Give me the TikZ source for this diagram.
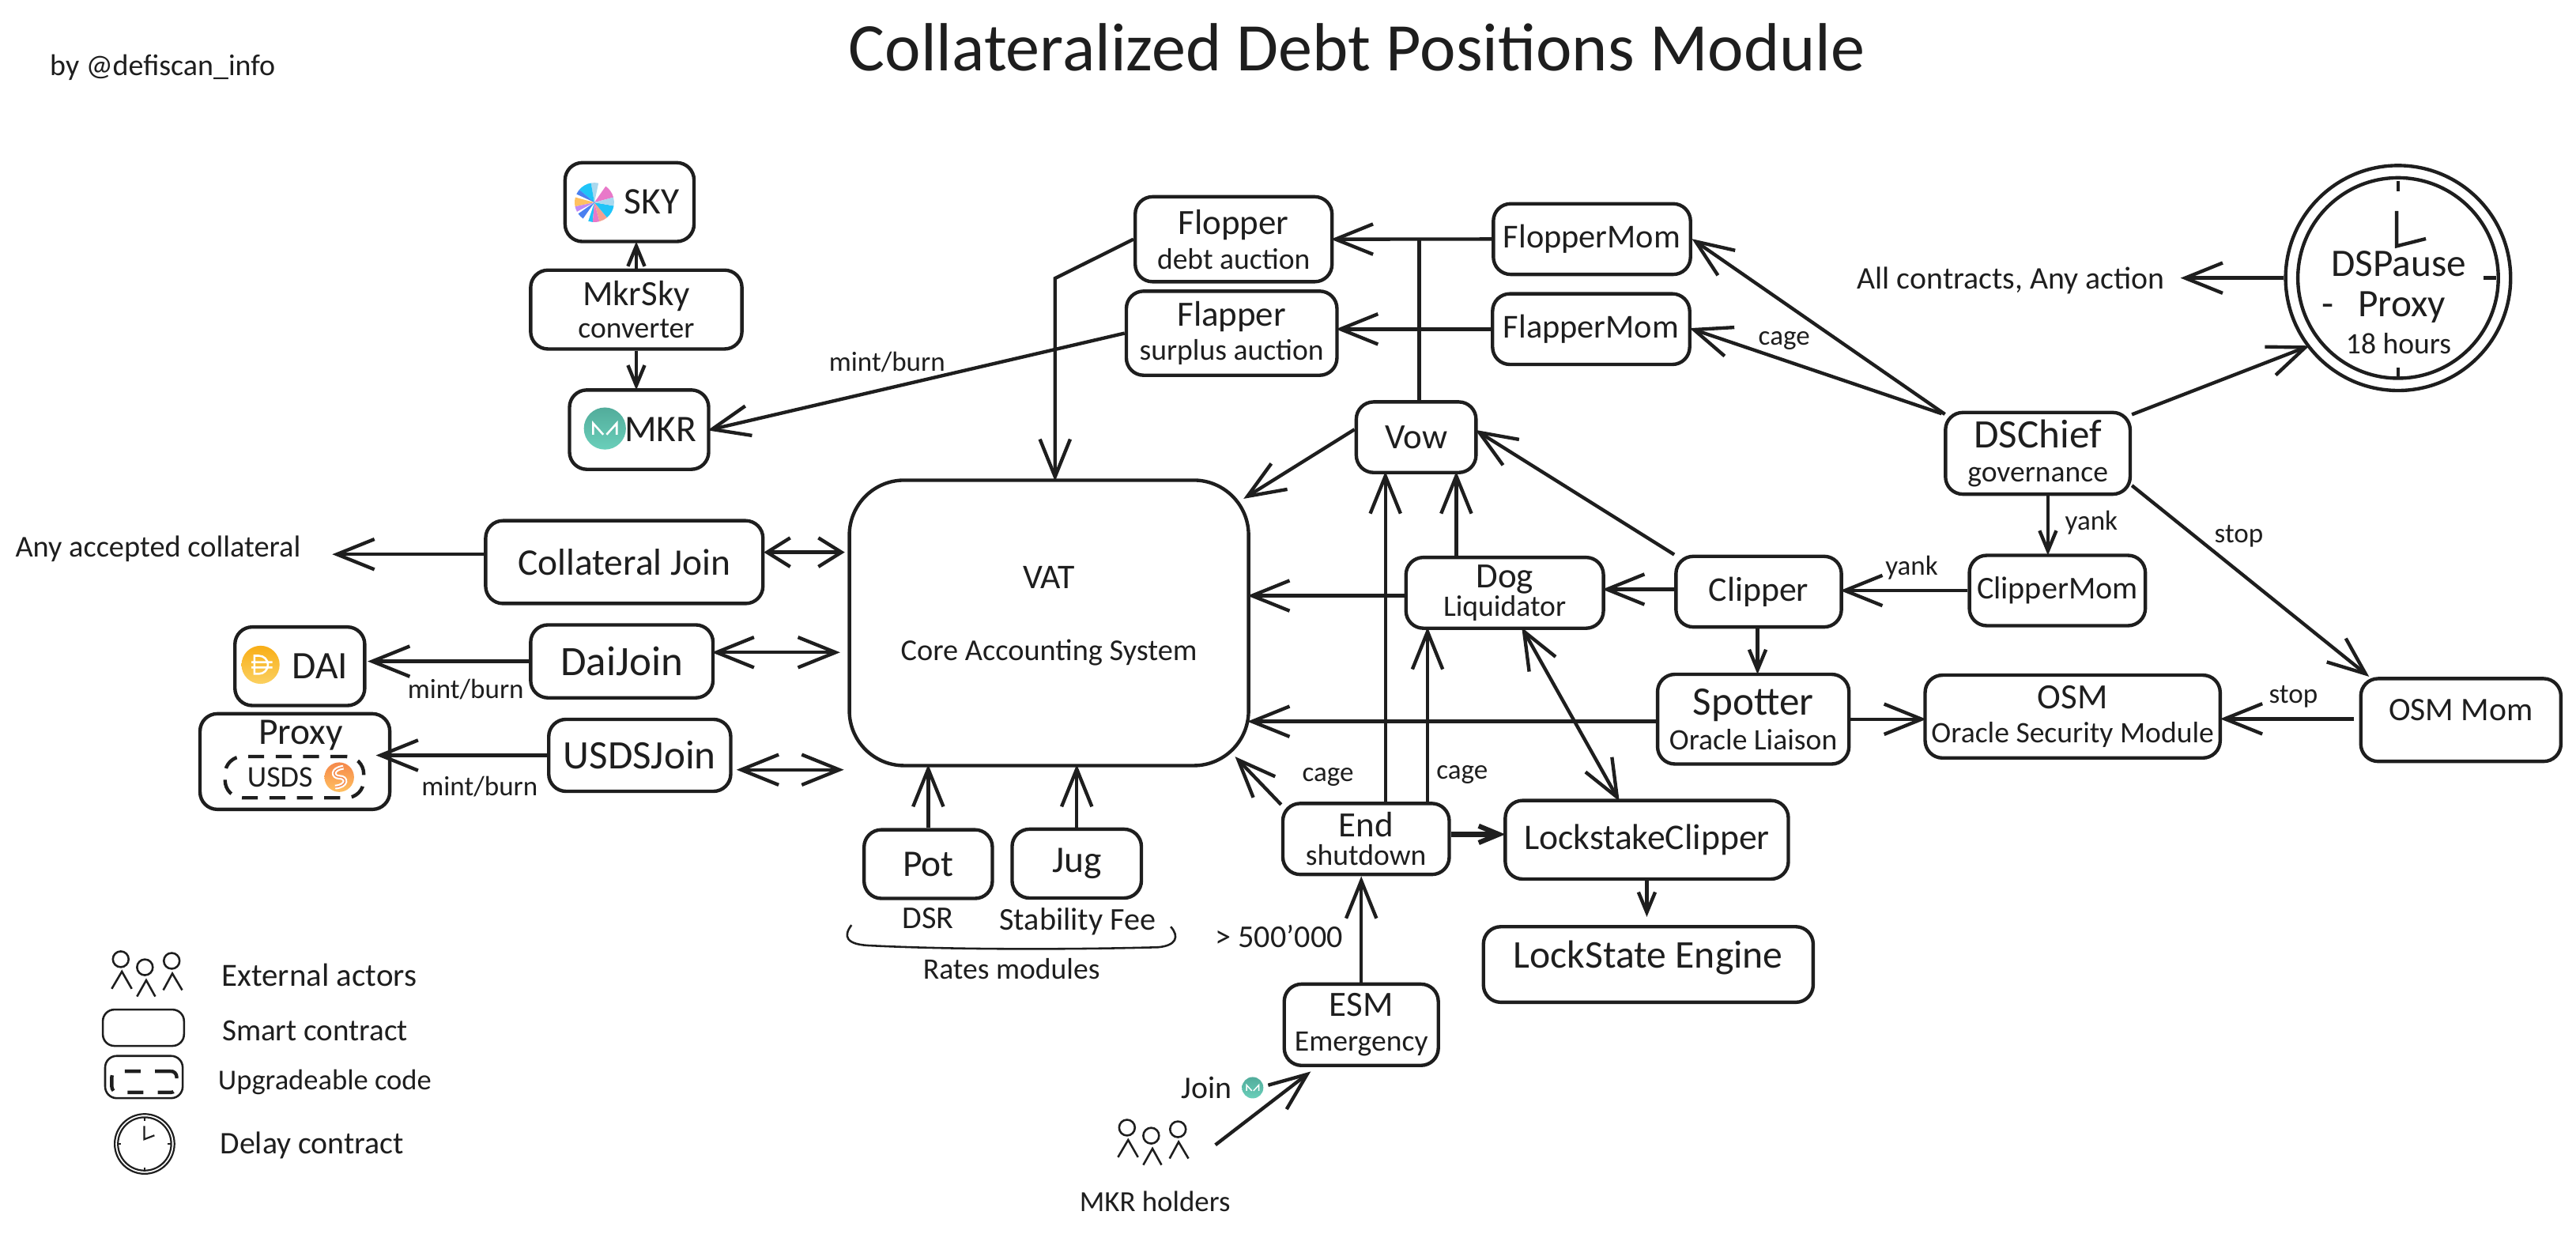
\documentclass[tikz,border=0pt]{standalone}
\usepackage{fontspec}
\setmainfont{Carlito}
\usetikzlibrary{arrows.meta,calc,shapes.geometric}
\definecolor{inkline}{HTML}{1E1E1E}
\definecolor{mkrtop}{HTML}{52AC9B}
\definecolor{mkrbottom}{HTML}{6ACFBA}
\definecolor{daitop}{HTML}{F8AE17}
\definecolor{daibottom}{HTML}{FBD060}
\definecolor{usdstop}{HTML}{F5884A}
\definecolor{usdsbottom}{HTML}{FFC060}
\definecolor{skypink}{HTML}{E879C9}
\definecolor{skypale}{HTML}{A9D8EE}
\definecolor{skycyan}{HTML}{1FC4F8}
\definecolor{skyblue}{HTML}{4A80F0}
\definecolor{skygold}{HTML}{FFC060}
\definecolor{skyviolet}{HTML}{C08AF5}
\definecolor{skysalmon}{HTML}{F5A090}

\begin{document}
\begin{tikzpicture}[x=0.02cm, y=-0.02cm, font=\fontsize{12.3}{13}\selectfont, text=inkline,
    line width=1.2pt, draw=inkline, >={Straight Barb[length=13pt,width=10.5pt]},
    flow/.style={->, draw=inkline, shorten >=-1pt},
    miniflow/.style={draw=inkline, -{Straight Barb[length=7pt,width=5.8pt]}, shorten >=-.6pt},
    bothflow/.style={draw=inkline, <->, shorten >=-1pt, shorten <=-1pt},
    tightflow/.style={draw=inkline, {Straight Barb[length=8pt,width=10pt]}-{Straight Barb[length=8pt,width=10pt]}, shorten >=-1pt, shorten <=-1pt},
    contract/.style 2 args={draw=inkline, rounded corners=6pt, inner sep=0pt, align=center,
        minimum width=#1*0.02cm, minimum height=#2*0.02cm},
    tsize/.style={font=\fontsize{#1}{13}\selectfont},
    edgelabel/.style={font=\fontsize{9.6}{11}\selectfont, inner sep=0pt},
    legendlabel/.style={font=\fontsize{#1}{11}\selectfont, inner sep=0pt, anchor=west}]

\useasboundingbox (0,0) rectangle (1568,751);

\def\sub#1{{\fontsize{10.3}{11}\selectfont #1}}

%%% people icon, centred on the middle head
\def\actors#1#2{
    \begin{scope}[shift={(#1,#2)}, line width=0.7pt]
    \draw (-14.7,-4.9) circle[radius=4.8];
    \draw (0,0) circle[radius=4.8];
    \draw (16.3,-3.9) circle[radius=4.8];
    \draw (-20.2,13.1) -- (-14,2.6) -- (-8,13.1);
    \draw (-4.8,17.8) -- (0.8,7.9) -- (6.3,17.8);
    \draw (11.2,13.9) -- (16.7,3.8) -- (22.7,13.9);
    \end{scope}
}

%%% clock outline with three ticks
\def\clockface#1#2#3#4#5{
    \node[circle, draw=inkline, line width=#5, inner sep=0pt, minimum size=#4*0.04cm] (#1) at (#2,#3) {};
    \begin{scope}[shift={(#2,#3)}, scale=#4/68.5, line width=#5]
    \draw (0,0) circle[radius=61];
    \draw (0,-59) -- (0,-52.6);
    \draw (52,0) -- (59.6,0);
    \draw (0,54.5) -- (0,61);
    \end{scope}
}

% Title
\node[tsize=23.6] (title) at (826,29) {Collateralized Debt Positions Module};
\node[tsize=10.4] (credit) at (99,41) {by @defiscan\_info};

% Tokens
\node[contract={78.5}{48}, tsize=13] (sky) at (383.2,123) {\hspace*{15.4pt}SKY};
\node[contract={128.6}{48}] (mkrsky) at (387.3,188.4) {MkrSky\\[-2pt]\sub{converter}};
\node[contract={84.7}{48.3}, tsize=13] (mkr) at (389,261.5) {\hspace*{15pt}MKR};
\node[contract={79}{47.8}, tsize=13.5] (dai) at (182.5,405.5) {\hspace*{14pt}DAI};
\node[contract={115.5}{58.2}] (proxy) at (179.5,463.5) {};
\node[inner sep=0pt, tsize=13] (proxylabel) at (183,447.4) {Proxy};
\node[contract={84.4}{25.1}, dash pattern=on 5.5pt off 4pt, tsize=10.4] (usdsbox) at (179.2,473) {USDS\hspace*{10pt}};

% pinwheel
\foreach \a/\b/\c in {15/55/skypink, 78/100/skypale, 100/140/skycyan, 140/155/skyblue, 165/192/skygold, 192/208/skyviolet, 215/235/skyblue, 252/265/skycyan, 265/285/skypink, 285/310/skysalmon, 310/350/skycyan, 350/375/skypale}{
    \fill[\c] (361.8,123.2) -- ++(-\a:12) arc[start angle=-\a, end angle=-\b, radius=12] -- cycle;
}
\shade[top color=mkrtop, bottom color=mkrbottom] (368.2,260.8) circle[radius=12.8];
\begin{scope}[shift={(368.2,260.8)}]
\draw[white, line width=0.7pt] (-7.2,3.7) -- (-7.2,-3.2) -- (-1,3.7) (7.2,3.7) -- (7.2,-3.2) -- (1,3.7);
\end{scope}
\shade[top color=daitop, bottom color=daibottom] (158.6,404.6) circle[radius=11.6];
\begin{scope}[shift={(158.6,404.6)}]
\draw[white, line width=0.7pt] (-3.7,-5.5) -- (-1,-5.5) arc[start angle=-90, end angle=90, radius=5.5] -- (-3.7,5.5) -- cycle (-5.6,-1.6) -- (7.2,-1.6) (-5.6,1.6) -- (7.2,1.6);
\end{scope}
\shade[top color=usdstop, bottom color=usdsbottom] (206.5,473) circle[radius=9];
\begin{scope}[shift={(206.5,473)}]
\draw[white, line width=1.6pt] (2.5,-6) .. controls (-5,-5) and (-4,0) .. (0,0) .. controls (5,0) and (5,5.5) .. (-2.5,6);
\draw[usdstop, line width=0.4pt] (2.5,-6) .. controls (-5,-5) and (-4,0) .. (0,0) .. controls (5,0) and (5,5.5) .. (-2.5,6);
\end{scope}

% Joins
\node[contract={168.8}{50.4}, tsize=13] (colljoin) at (380,342.1) {Collateral Join};
\node[contract={111}{44.4}, tsize=14.5] (daijoin) at (378.5,402.5) {DaiJoin};
\node[contract={110.8}{43.8}, tsize=14] (usdsjoin) at (389.4,459.7) {USDSJoin};
\coordinate (anycollateral) at (204,337.3);
\node[inner sep=0pt, tsize=10.5] (anylabel) at (96.2,333.9) {Any accepted collateral};

% Core
\node[contract={243}{173.7}, rounded corners=19pt, tsize=10.5] (vat) at (638.5,379.1) {\fontsize{12}{13}\selectfont VAT\\[12pt]Core Accounting System\\[-6.4pt]\phantom{x}};
\node[contract={78.1}{41.8}, tsize=13] (pot) at (565,525.9) {Pot};
\node[contract={78.7}{41.9}, tsize=13] (jug) at (655.4,525.6) {Jug};
\node[inner sep=0pt, tsize=11] (dsr) at (565,559) {DSR};
\node[inner sep=0pt, tsize=11] (stabfee) at (656,561) {Stability Fee};
\node[inner sep=0pt, tsize=10.3] (rates) at (615.7,589.8) {Rates modules};
\draw[line width=0.7pt] (518.3,563) .. controls (513,570) and (515,575) .. (530,575.5) .. controls (580,578) and (650,578) .. (705,576.5) .. controls (716,575.5) and (718,570) .. (712.6,564);

% Auctions
\node[contract={119.8}{51.7}] (flopper) at (750.9,145.6) {Flopper\\[-1pt]\sub{debt auction}};
\node[contract={128.2}{51.2}] (flapper) at (749.7,202.8) {Flapper\\[-1pt]\sub{surplus auction}};
\node[contract={120}{43}, tsize=11.6] (floppermom) at (969,145.5) {FlopperMom};
\node[contract={120}{43}, tsize=11.6] (flappermom) at (968.5,200.3) {FlapperMom};
\node[contract={72.9}{43}] (vow) at (862,266.1) {Vow};
\coordinate (floppervia) at (642.2,169.4);
\coordinate (vowjoint) at (863.9,145.5);

% Liquidation
\node[contract={120.2}{43.1}] (dog) at (915.9,360.8) {Dog\\[-3pt]\sub{Liquidator}};
\node[contract={100.7}{43}, tsize=12] (clipper) at (1070.5,360.1) {Clipper};
\node[contract={107.1}{42.8}, tsize=11] (clippermom) at (1252.3,359.4) {ClipperMom};
\node[contract={116.5}{54.6}, tsize=14] (spotter) at (1067.2,437.7) {Spotter\\[-1pt]\sub{Oracle Liaison}};
\node[contract={179.6}{50.4}] (osm) at (1261.6,436.1) {OSM\\[-1pt]\sub{Oracle Security Module}};
\node[contract={121.8}{50.4}, text depth=7pt, tsize=11.4] (osmmom) at (1497.9,438.2) {OSM Mom};
\node[contract={112.4}{49.7}, tsize=14] (dschief) at (1240.4,275.9) {DSChief\\[-1pt]\sub{governance}};

% Shutdown
\node[contract={101.3}{43.2}] (endmod) at (831.5,510.6) {End\\[-3pt]\sub{shutdown}};
\node[contract={172.3}{47.8}, tsize=12.5] (lockclipper) at (1002.4,511.1) {LockstakeClipper};
\node[contract={200.7}{46}, text depth=7pt, tsize=13.6] (lockengine) at (1003.3,587) {LockState Engine};
\node[contract={93.8}{49.5}] (esm) at (828.6,623.7) {ESM\\[-1pt]\sub{Emergency}};
\node[inner sep=0pt, tsize=11] (threshold) at (778.5,569.7) {> 500'000};
\node[inner sep=0pt, tsize=10.9] (joinlabel) at (734.6,662) {Join};
\shade[top color=mkrtop, bottom color=mkrbottom] (762.5,662) circle[radius=6.5];
\begin{scope}[shift={(762.5,662)}]
\draw[white, line width=0.4pt] (-3.7,1.9) -- (-3.7,-1.6) -- (-.5,1.9) (3.7,1.9) -- (3.7,-1.6) -- (.5,1.9);
\end{scope}
\actors{700.7}{691.2}
\coordinate (holders) at (739.8,696.8);
\node[inner sep=0pt, tsize=10.1] (holderslabel) at (703,731) {MKR holders};

% Delay
\clockface{dspause}{1459.7}{169.2}{68.5}{1.2pt}
\draw (1458.8,128.4) -- (1458.8,149.8) -- (1476.6,145.3);
\node[inner sep=0pt, align=center, tsize=13.5] (pausetext) at (1460,184) {DSPause\\[1pt]\hspace*{-10.5pt}-\hspace{8.5pt}Proxy\\[0pt]\sub{18 hours}};
\coordinate (allcontracts) at (1329,171.2);
\node[inner sep=0pt, tsize=10.9] (alllabel) at (1224,170.7) {All contracts, Any action};

% Connectors
\draw[miniflow] (mkrsky.north) -- (mkrsky.north |- sky.south);
\draw[miniflow] (mkrsky.south) -- (mkrsky.south |- mkr.north);
\draw[flow] (flapper.west) -- (mkr.east);
\node[edgelabel] (mintflap) at (540,220.3) {mint/burn};
\draw[flow] (flopper.west) -- (floppervia) -- (floppervia |- vat.north);
\draw[flow] (floppermom.west) -- (flopper.east);
\draw (vow.north -| vowjoint) -- (vowjoint);
\draw[flow] (flappermom.west) -- (flappermom.west -| flapper.east);
\draw[flow] ([yshift=2.7pt]vow.west) -- ([xshift=-1.5pt,yshift=-6.5pt]vat.north east);
\draw[flow] (clipper.north west) -- ([yshift=2pt]vow.east);
\draw[flow] ([xshift=13.9pt]vow.south |- dog.north) -- ([xshift=13.9pt]vow.south);
\draw[flow] ([xshift=6.7pt]endmod.north) -- ([xshift=6.7pt]endmod.north |- vow.south);
\draw[flow] ([xshift=21.3pt]endmod.north) -- ([xshift=21.3pt]endmod.north |- dog.south);
\draw[flow] ([yshift=-1pt]dog.west) -- ([yshift=-1pt]dog.west -| vat.east);
\draw[flow] ([yshift=.8pt]clipper.west) -- ([yshift=.8pt]clipper.west -| dog.east);
\draw[bothflow] ([xshift=6.4pt]dog.south) -- ([xshift=-10pt]lockclipper.north);
\draw[flow] ([yshift=-.8pt]spotter.west) -- ([yshift=-.8pt]spotter.west -| vat.east);
\draw[flow] ([yshift=-1pt]endmod.north west) -- ([xshift=-4.6pt,yshift=3pt]vat.south east);
\node[edgelabel] (cageleft) at (808.3,473) {cage};
\node[edgelabel] (cageright) at (890,471.7) {cage};
\draw[miniflow, line width=1.7pt] ([yshift=1.6pt]endmod.east) -- ([yshift=1.6pt]endmod.east -| lockclipper.west);
\draw[miniflow, shorten >=2.8pt] (lockclipper.south) -- (lockclipper.south |- lockengine.north);
\draw[flow] (esm.north) -- ([yshift=-1pt]esm.north |- endmod.south);
\draw[flow] (pot.north) -- (pot.north |- vat.south);
\draw[flow] (jug.north) -- (jug.north |- vat.south);
\draw[flow] ([yshift=2.7pt]colljoin.west) -- ([yshift=2.7pt]colljoin.west -| anycollateral);
\draw[tightflow] ([xshift=.7pt,yshift=3.4pt]colljoin.east) -- ([xshift=-2pt,yshift=3.4pt]colljoin.east -| vat.west);
\draw[bothflow] ([yshift=3.1pt]daijoin.east) -- ([xshift=-3.6pt,yshift=3.1pt]daijoin.east -| vat.west);
\draw[flow] (daijoin.west) -- ([xshift=1.4pt]daijoin.west -| dai.east);
\node[edgelabel] (mintdai) at (283.5,419.5) {mint/burn};
\draw[bothflow] ([xshift=2.4pt,yshift=-5pt]usdsjoin.east) -- ([xshift=-2.3pt,yshift=-5pt]usdsjoin.east -| vat.west);
\draw[flow] (usdsjoin.west) -- ([xshift=-4.4pt]proxy.east |- usdsjoin.west);
\node[edgelabel] (mintusds) at (292,478.8) {mint/burn};
\draw[flow] ([xshift=0.4pt,yshift=-1.2pt]dschief.north west) -- ([xshift=.7pt,yshift=-.5pt]floppermom.east);
\draw[flow] ([xshift=-.7pt,yshift=-1pt]dschief.north west) -- ([xshift=.3pt]flappermom.east);
\node[edgelabel] (cagechief) at (1086,207.5) {cage};
\draw[flow] ([yshift=-1.3pt]dschief.north east) -- (dspause.217);
\draw[flow] (dspause.west) -- (dspause.west -| allcontracts);
\draw[miniflow] ([xshift=3.5pt]dschief.south) -- ([xshift=3.5pt]dschief.south |- clippermom.north);
\node[edgelabel] (yankchief) at (1273,318.2) {yank};
\draw[flow] (clippermom.west) -- (clippermom.west -| clipper.east);
\node[edgelabel] (yankmom) at (1163.6,345.6) {yank};
\draw[miniflow] ([xshift=-.4pt]clipper.south) -- ([xshift=-.4pt]clipper.south |- spotter.north);
\draw[flow] (spotter.east) -- (spotter.east -| osm.west);
\draw[flow] ([yshift=.4pt,xshift=-1.7pt]osmmom.west) -- ([yshift=.4pt,xshift=.4pt]osmmom.west -| osm.east);
\node[edgelabel] (stopmom) at (1395.9,423.9) {stop};
\draw[flow] ([yshift=3.6pt]dschief.south east) -- ([xshift=2.7pt,yshift=.7pt]osmmom.north west);
\node[edgelabel] (stopchief) at (1362.8,326.3) {stop};
\draw[flow] (holders) -- ([xshift=9pt,yshift=-2.1pt]esm.south west);

% Legend
\actors{88.2}{588.7}
\node[legendlabel=11.2] (legactors) at (133.9,593.5) {External actors};
\node[contract={49.4}{22.1}, line width=0.7pt, rounded corners=4pt] (legcontract) at (87.3,625.5) {};
\node[legendlabel=10.7] (legsmart) at (134.2,627.5) {Smart contract};
\node[contract={47.2}{25.7}, line width=0.7pt, rounded corners=4pt] (legupgrade) at (87.6,655.5) {};
\node[contract={39.5}{12.9}, dash pattern=on 5.5pt off 5pt, rounded corners=2pt] (legdash) at (87.8,658.4) {};
\node[legendlabel=10] (legcode) at (131.7,658.5) {Upgradeable code};
\clockface{legclock}{88}{696.2}{18.2}{0.6pt}
\draw[line width=0.6pt] (87.8,685.3) -- (87.8,693.4) -- (94,691);
\draw[line width=0.6pt] (72,696) -- (73.8,696);
\node[legendlabel=10.9] (legdelay) at (133,697) {Delay contract};

\end{tikzpicture}
\end{document}
